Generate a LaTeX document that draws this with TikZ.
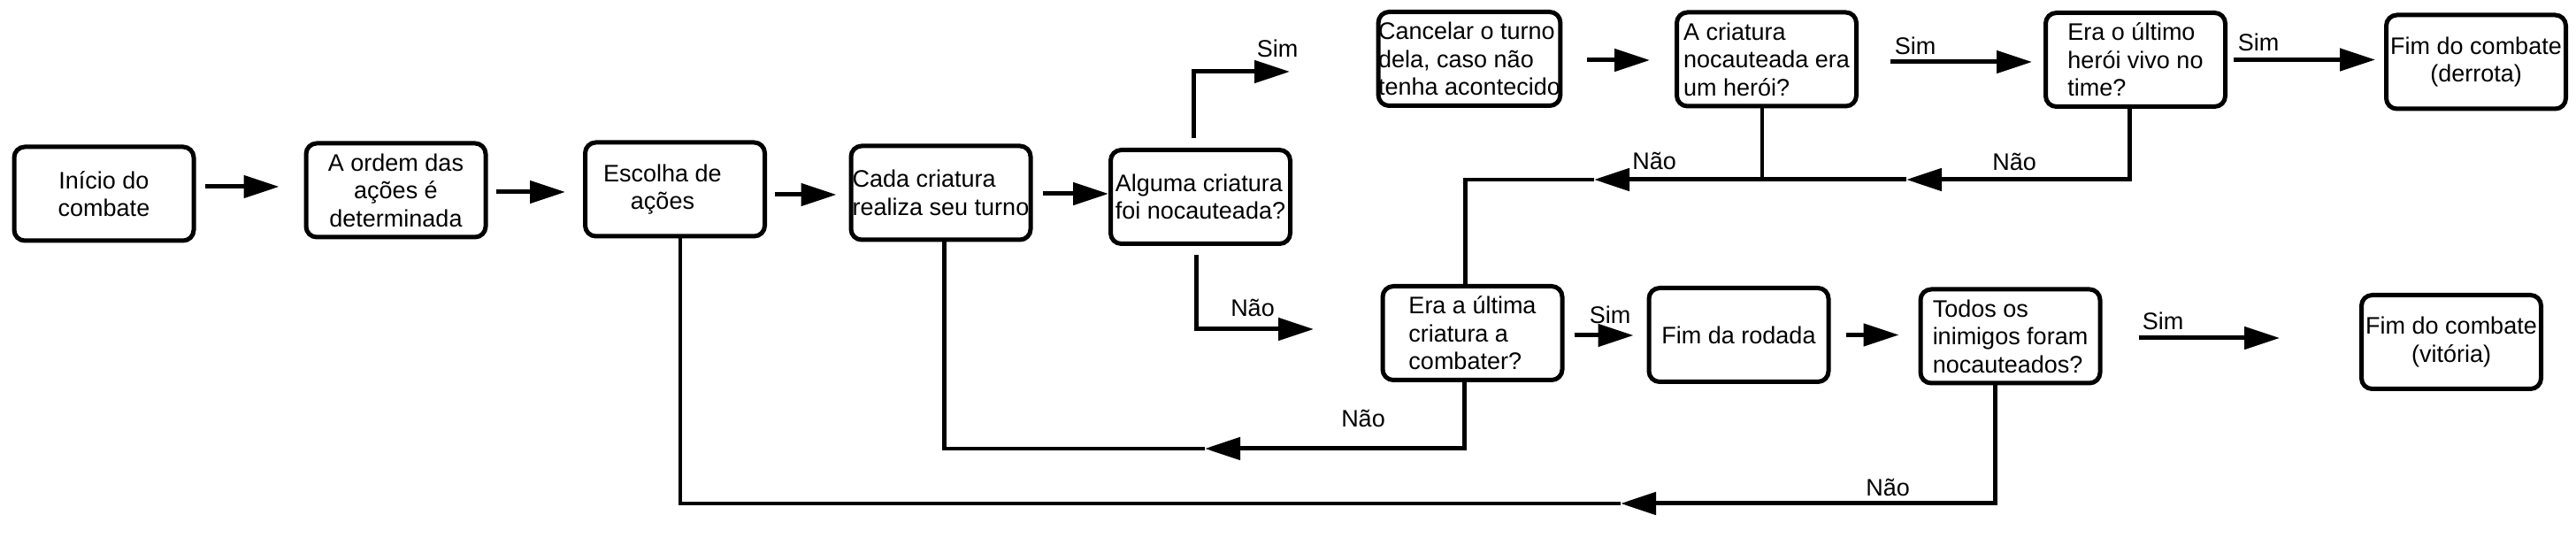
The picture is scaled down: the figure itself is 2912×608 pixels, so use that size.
\documentclass[tikz,border=0pt]{standalone}
\usepackage{fontspec}
\setmainfont{Liberation Sans}
\usetikzlibrary{arrows.meta,calc}
\begin{document}
\begin{tikzpicture}[x=0.5pt,y=-0.5pt,
  box/.style={draw, line width=2.5pt, rounded corners=6pt, minimum width=101.5pt, minimum height=53pt, inner sep=0pt, font=\fontsize{13.5pt}{15.75pt}\selectfont},
  lbl/.style={font=\fontsize{13.5pt}{15.75pt}\selectfont, inner sep=0pt, anchor=base},
  lin/.style={line width=2.3pt},
  arr/.style={line width=2.5pt, -{Triangle[length=20pt,width=12.5pt]}}]
\useasboundingbox (0,0) rectangle (2912,608);
% boxes
\node[box, align=center] (start) at (117.5,219) {Início do\\combate};
\node[box, align=center] (order) at (447.5,215) {A ordem das\\ações é\\determinada};
\node[box, align=center] (choose) at (763,214) {Escolha de\hspace*{14pt}\\ações\hspace*{14pt}};
\node[box, align=left] (turn) at (1063.5,218) {Cada criatura\\realiza seu turno};
\node[box, align=left] (ko) at (1357,222.5) {Alguma criatura\\foi nocauteada?};
\node[box, align=left] (cancel) at (1661,66.5) {Cancelar o turno\\dela, caso não\\tenha acontecido};
\node[box, align=left] (hero) at (1997,67) {A criatura\\nocauteada era\\um herói?};
\node[box, align=left] (lasthero) at (2414,67.5) {Era o último\\herói vivo no\\time?};
\node[box, align=center] (defeat) at (2799,70) {Fim do combate\\(derrota)};
\node[box, align=left] (lastcr) at (1664.5,376.5) {Era a última\\criatura a\\combater?};
\node[box, align=center] (round) at (1965.5,378.5) {Fim da rodada};
\node[box, align=left] (enemies) at (2272.5,380) {Todos os\\inimigos foram\\nocauteados?};
\node[box, align=center] (victory) at (2771,386.5) {Fim do combate\\(vitória)};
% straight arrows
\draw[arr, shorten <=5pt, shorten >=14pt] ([yshift=4pt]start.east) -- ([yshift=4pt]start.east -| order.west);
\draw[arr, shorten <=4.5pt, shorten >=10pt] ([yshift=-1pt]order.east) -- ([yshift=-1pt]order.east -| choose.west);
\draw[arr, shorten <=4.5pt, shorten >=7pt] ([yshift=-3pt]choose.east) -- ([yshift=-3pt]choose.east -| turn.west);
\draw[arr, shorten <=5.5pt] ([yshift=-0.5pt]turn.east) -- ([yshift=-0.5pt]turn.east -| ko.west);
\draw[arr, shorten <=14pt, shorten >=14pt] ([yshift=-0.75pt]cancel.east) -- ([yshift=-0.75pt]cancel.east -| hero.west);
\draw[arr, shorten <=18pt, shorten >=6.5pt] ([yshift=-1.5pt]hero.east) -- ([yshift=-1.5pt]hero.east -| lasthero.west);
\draw[arr, shorten <=3.5pt, shorten >=5pt] (lasthero.east) -- (lasthero.east -| defeat.west);
\draw[arr, shorten <=5.5pt, shorten >=7.5pt] ([yshift=-1.25pt]lastcr.east) -- ([yshift=-1.25pt]lastcr.east -| round.west);
\draw[arr, shorten <=8.5pt, shorten >=11pt] (round.east) -- (round.east -| enemies.west);
\draw[arr, shorten <=20.5pt, shorten >=45pt] ([yshift=-1pt]enemies.east) -- ([yshift=-1pt]enemies.east -| victory.west);
% branches from ko
\coordinate (simend) at (1458,81);
\coordinate (naoend) at (1485,372);
\draw[arr] ($(ko.north)+(-8,-11)$) |- (simend);
\draw[arr] ($(ko.south)+(-5,10)$) |- (naoend);
% upper loop
\coordinate (m1) at (2155,203);
\coordinate (m2) at (1802,203);
\coordinate (hs) at ($(hero.south)+(-5,0)$);
\coordinate (lcn) at ($(lastcr.north)+(-8,0)$);
\draw[arr] ($(lasthero.south)+(-7,0)$) |- (m1);
\draw[arr] (m1) -- (m2);
\draw[lin] (m2) -| (lcn);
\draw[lin] (hs) -- (hs |- m1);
% middle loop
\coordinate (m3) at (1362,507);
\coordinate (ts) at ($(turn.south)+(4,0)$);
\draw[arr] ($(lastcr.south)+(-9,0)$) |- (m3);
\draw[lin] (m3) -| (ts);
% bottom loop
\coordinate (m4) at (1832,569);
\coordinate (cs) at ($(choose.south)+(6,0)$);
\draw[arr] ($(enemies.south)+(-17,0)$) |- (m4);
\draw[lin] (m4) -| (cs);
% labels
\node[lbl] (s1) at (1444,65) {Sim};
\node[lbl] (n1) at (1416,358) {Não};
\node[lbl] (n2) at (2277,193) {Não};
\node[lbl] (n3) at (1870,192) {Não};
\node[lbl] (s2) at (2165,62) {Sim};
\node[lbl] (s3) at (2553,58) {Sim};
\node[lbl] (s4) at (1820,366) {Sim};
\node[lbl] (n4) at (1541,483) {Não};
\node[lbl] (s5) at (2445,373) {Sim};
\node[lbl] (n5) at (2134,560) {Não};
\end{tikzpicture}
\end{document}
